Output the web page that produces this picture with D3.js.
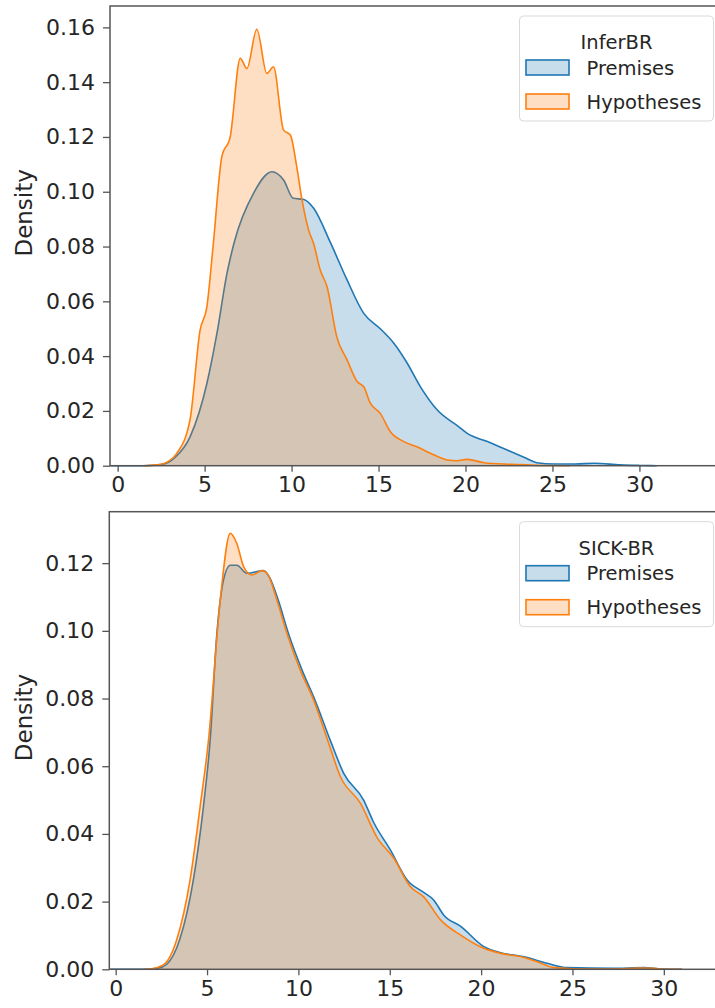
<!DOCTYPE html>
<html>
<head>
<meta charset="utf-8">
<script src="https://cdn.jsdelivr.net/npm/d3@7"></script>
<style>
  html, body { margin: 0; padding: 0; background: #fff; }
  svg { display: block; font-family: "DejaVu Sans", sans-serif; }
</style>
</head>
<body>
<div id="chart"></div>
<script>
// ===== data (x = sentence length, y = density) =====
const inferPremises = [
  [-0.4, 0], [1.5, 0], [2.6, 0.0005], [3.3, 0.003], [4.17, 0.0106], [5.13, 0.030],
  [5.7, 0.048], [6.28, 0.070], [6.7, 0.0815], [7.81, 0.0994], [8.87, 0.1073],
  [9.54, 0.1043], [10.1, 0.0976], [10.7, 0.0972], [11.27, 0.094], [12.23, 0.0815],
  [13.19, 0.0678], [14.15, 0.0556], [15.1, 0.050], [15.88, 0.0447], [16.65, 0.0374],
  [17.41, 0.0288], [18.38, 0.0203], [19.62, 0.0142], [20.1, 0.0118], [21.26, 0.0088],
  [22.4, 0.0057], [23.36, 0.0031], [24.1, 0.0011], [25.1, 0.0006], [26.3, 0.0006],
  [27.4, 0.0009], [28.9, 0.0003], [30, 0.0001], [31, 0]
];
const inferHypotheses = [
  [1.5, 0], [2.25, 0.0003], [2.9, 0.0015], [3.4, 0.0045], [4.16, 0.0167], [4.74, 0.0495],
  [5.13, 0.058], [5.5, 0.081], [5.99, 0.1128], [6.47, 0.120], [7.05, 0.1487],
  [7.43, 0.145], [8.0, 0.1593], [8.58, 0.1432], [8.96, 0.1456], [9.54, 0.1225],
  [9.93, 0.1207], [10.3, 0.109], [10.6, 0.097], [10.98, 0.086], [11.27, 0.081],
  [11.65, 0.0714], [12.04, 0.0653], [12.6, 0.047], [13.19, 0.0386], [13.77, 0.0307],
  [14.15, 0.0288], [14.53, 0.0228], [15.1, 0.0191], [15.68, 0.0124], [16.45, 0.0088],
  [17.2, 0.0069], [18.2, 0.0039], [18.95, 0.0021], [19.5, 0.0018], [20.1, 0.0023],
  [21.06, 0.0011], [22.6, 0.0005], [24.6, 0.0001], [26, 0]
];
const sickPremises = [
  [-0.3, 0], [1.5, 0], [2.3, 0.0003], [2.8, 0.0015], [3.5, 0.0087], [4.25, 0.0264],
  [4.8, 0.048], [5.17, 0.0677], [5.54, 0.0993], [5.9, 0.115], [6.27, 0.1194],
  [6.63, 0.1194], [7.18, 0.117], [8.09, 0.1178], [8.4, 0.116], [8.9, 0.109],
  [9.45, 0.0993], [10.2, 0.0884], [10.9, 0.0796], [11.74, 0.0677], [12.48, 0.0579],
  [13.57, 0.05], [14.1, 0.0436], [15.04, 0.0352], [15.95, 0.0264], [16.86, 0.0227],
  [17.4, 0.0205], [17.96, 0.016], [18.9, 0.0126], [20.15, 0.0067], [21.07, 0.0049],
  [22.35, 0.0037], [23.6, 0.0018], [24.7, 0.0005], [27.2, 0.0003], [28.9, 0.0005],
  [29.9, 0.0001], [31, 0]
];
const sickHypotheses = [
  [1.5, 0], [1.88, 0.0001], [2.61, 0.0013], [3.34, 0.0087], [4.07, 0.0264], [4.62, 0.048],
  [5.08, 0.0677], [5.72, 0.109], [6.27, 0.1288], [6.63, 0.1258], [7.0, 0.119],
  [7.46, 0.1165], [8.0, 0.1178], [8.28, 0.117], [8.83, 0.109], [9.37, 0.0993],
  [10.1, 0.0884], [10.83, 0.0796], [11.6, 0.0677], [12.3, 0.0569], [13.4, 0.049],
  [14.3, 0.039], [15.22, 0.0328], [16.13, 0.0244], [16.86, 0.0214], [17.78, 0.0146],
  [18.88, 0.0101], [20.15, 0.0062], [21.07, 0.0047], [22.35, 0.0035], [23.08, 0.0022],
  [24, 0.0005], [25.5, 0.0001], [27.2, 0.0001], [28.7, 0.0004], [29.4, 0.0003],
  [30.2, 0], [31, 0]
];

const seriesNames = ['Premises', 'Hypotheses'];
const xTicks = [0, 5, 10, 15, 20, 25, 30];
const topYTicks = [0, 0.02, 0.04, 0.06, 0.08, 0.10, 0.12, 0.14, 0.16];
const bottomYTicks = [0, 0.02, 0.04, 0.06, 0.08, 0.10, 0.12];

// ===== layout =====
const W = 715, H = 1008;
const COLORS = ['#1f77b4', '#ff7f0e'];
const TEXT = '#262626';
const SPINE = '#555';

const panels = [
  { title: 'InferBR', series: [inferPremises, inferHypotheses], yTicks: topYTicks,
    left: 110, top: 6, bottom: 465.7, xDom: [-0.44, 34.46], yMax: 0.1678 },
  { title: 'SICK-BR', series: [sickPremises, sickHypotheses], yTicks: bottomYTicks,
    left: 109.3, top: 511.7, bottom: 969.3, xDom: [-0.35, 32.91], yMax: 0.1352 }
];

const svg = d3.select('#chart').append('svg')
  .attr('width', W).attr('height', H);

panels.forEach(p => {
  const right = W + 2; // right spine is cut off in the picture
  const x = d3.scaleLinear().domain(p.xDom).range([p.left, right]);
  const y = d3.scaleLinear().domain([0, p.yMax]).range([p.bottom, p.top]);

  const g = svg.append('g');

  const area = d3.area().x(d => x(d[0])).y0(y(0)).y1(d => y(d[1])).curve(d3.curveMonotoneX);
  const line = d3.line().x(d => x(d[0])).y(d => y(d[1])).curve(d3.curveMonotoneX);

  // fill + edge, Premises first then Hypotheses on top
  p.series.forEach((s, i) => {
    g.append('path').datum(s)
      .attr('d', area)
      .attr('fill', COLORS[i]).attr('fill-opacity', 0.25);
    g.append('path').datum(s)
      .attr('d', line)
      .attr('fill', 'none').attr('stroke', COLORS[i])
      .attr('stroke-width', 1.6).attr('stroke-linejoin', 'round');
  });

  // frame
  g.append('rect')
    .attr('x', p.left).attr('y', p.top)
    .attr('width', right - p.left).attr('height', p.bottom - p.top)
    .attr('fill', 'none').attr('stroke', SPINE).attr('stroke-width', 1.5);

  // axes
  const xAxis = g.append('g')
    .attr('transform', `translate(0,${p.bottom})`)
    .call(d3.axisBottom(x).tickValues(xTicks).tickSize(6).tickPadding(5));
  const yAxis = g.append('g')
    .attr('transform', `translate(${p.left},0)`)
    .call(d3.axisLeft(y).tickValues(p.yTicks).tickFormat(d3.format('.2f')).tickSize(7).tickPadding(8));

  [xAxis, yAxis].forEach(a => {
    a.select('.domain').remove();
    a.selectAll('line').attr('stroke', SPINE).attr('stroke-width', 1.3);
    a.selectAll('text').attr('fill', TEXT).style('font-size', '22px')
      .style('font-family', '"DejaVu Sans", sans-serif');
  });

  // y label
  const ly = (p.top + p.bottom) / 2 - 23;
  g.append('text')
    .attr('transform', `translate(32,${ly}) rotate(-90)`)
    .attr('text-anchor', 'middle')
    .attr('fill', TEXT).style('font-size', '23px')
    .text('Density');

  // legend
  const lg = g.append('g').attr('transform', `translate(519.5,${p.top + 10})`);
  lg.append('rect')
    .attr('width', 194).attr('height', 105).attr('rx', 4)
    .attr('fill', '#fff').attr('fill-opacity', 0.8)
    .attr('stroke', '#d9d9d9').attr('stroke-width', 1);
  lg.append('text')
    .attr('x', 97).attr('y', 33).attr('text-anchor', 'middle')
    .attr('fill', TEXT).style('font-size', '19.5px')
    .text(p.title);
  seriesNames.forEach((name, i) => {
    const ry = 44 + i * 34;
    lg.append('rect')
      .attr('x', 6.5).attr('y', ry).attr('width', 43).attr('height', 15)
      .attr('fill', COLORS[i]).attr('fill-opacity', 0.25)
      .attr('stroke', COLORS[i]).attr('stroke-width', 1.6);
    lg.append('text')
      .attr('x', 67).attr('y', ry + 14.5)
      .attr('fill', TEXT).style('font-size', '19.5px')
      .text(name);
  });
});
</script>
</body>
</html>
